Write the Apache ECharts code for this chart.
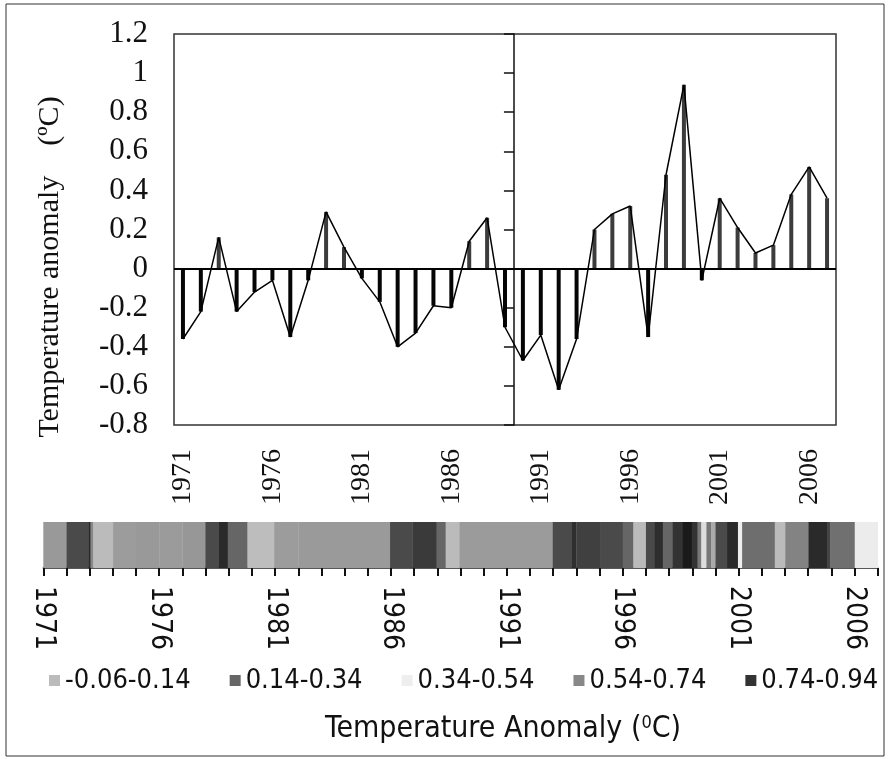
<!DOCTYPE html>
<html><head><meta charset="utf-8">
<script src="https://cdn.jsdelivr.net/npm/echarts@6/dist/echarts.min.js"></script>
<style>html,body{margin:0;padding:0;background:#fff}#c{width:895px;height:759px}</style>
</head><body><div id="c"></div>
<script>
// ---- data ----
const years = ['1971','1972','1973','1974','1975','1976','1977','1978','1979','1980',
  '1981','1982','1983','1984','1985','1986','1987','1988','1989','1990',
  '1991','1992','1993','1994','1995','1996','1997','1998','1999','2000',
  '2001','2002','2003','2004','2005','2006','2007'];
const anomaly = [-0.36,-0.22,0.16,-0.22,-0.12,-0.06,-0.35,-0.06,0.29,0.11,
  -0.05,-0.17,-0.40,-0.33,-0.19,-0.20,0.14,0.26,-0.30,-0.47,
  -0.34,-0.62,-0.36,0.20,0.28,0.32,-0.35,0.48,0.94,-0.06,
  0.36,0.21,0.08,0.12,0.38,0.52,0.36];
const yMin = -0.8, yMax = 1.2, yStep = 0.2;

// colour strip segments (start year, end year, grey level)
const segStart = [1971.00,1972.00,1972.94,1973.04,1973.16,1974.01,1975.00,1976.00,1977.00,1977.99,
  1978.56,1978.96,1979.81,1980.96,1982.00,1985.96,1986.92,1987.97,1988.36,1988.95,
  1992.98,1993.78,1994.00,1995.02,1996.00,1996.46,1997.00,1997.38,1997.73,1998.14,
  1998.59,1998.98,1999.23,1999.39,1999.61,1999.81,2000.00,2000.50,2000.97,2001.15,
  2002.56,2003.01,2004.01,2004.81,2004.96,2006.01];
const segEnd = [1972.00,1972.94,1973.04,1973.16,1974.01,1975.00,1976.00,1977.00,1977.99,1978.56,
  1978.96,1979.81,1980.96,1982.00,1985.96,1986.92,1987.97,1988.36,1988.95,1992.98,
  1993.78,1994.00,1995.02,1996.00,1996.46,1997.00,1997.38,1997.73,1998.14,1998.59,
  1998.98,1999.23,1999.39,1999.61,1999.81,2000.00,2000.50,2000.97,2001.15,2002.56,
  2003.01,2004.01,2004.81,2004.96,2006.01,2007.00];
const segGrey = [153,74,42,136,187,156,153,155,151,74,
  42,102,189,156,154,74,58,102,187,155,
  74,46,64,74,102,187,74,46,102,51,
  26,51,119,221,119,170,74,42,238,110,
  187,131,42,68,112,236];
const stripMin = 1971, stripMax = 2007;

const legendNames = ['-0.06-0.14','0.14-0.34','0.34-0.54','0.54-0.74','0.74-0.94'];
const legendColors = ['#bbbbbb','#666666','#eeeeee','#888888','#333333'];

// ---- chart ----
const chart = echarts.init(document.getElementById('c'));
const gridLeft = 174, gridRight = 59;
const gridW = 895 - gridLeft - gridRight;
const crossIndex = 19; // vertical axis crosses between 1989 and 1990

const serif = '"Liberation Serif","Times New Roman",serif';
const sans = '"DejaVu Sans Condensed","Liberation Sans",sans-serif';

const stripData = segStart.map((s, i) => [s, segEnd[i], segGrey[i]]);

const legendSeries = legendNames.map((n, i) => ({
  name: n, type: 'bar', data: [], xAxisIndex: 1, yAxisIndex: 2,
  itemStyle: {color: legendColors[i]}
}));

chart.setOption({
  animation: false,
  backgroundColor: '#fff',
  graphic: [
    {type: 'rect', shape: {x: 6, y: 4, width: 878, height: 752},
     style: {fill: 'none', stroke: '#333', lineWidth: 1}, silent: true},
    {type: 'text', x: 50, y: 267, rotation: Math.PI / 2,
     style: {text: 'Temperature anomaly    (\u00baC)', font: '30px ' + serif,
             fill: '#111', textAlign: 'center', textVerticalAlign: 'middle'}}
  ],
  title: {
    text: '{a|Temperature Anomaly (}{s|0}{a|C)}',
    left: 320, top: 709,
    textStyle: {fontWeight: 'normal', rich: {
      a: {fontFamily: sans, fontSize: 30, fontWeight: 'normal', color: '#111'},
      s: {fontFamily: sans, fontSize: 18, fontWeight: 'normal', color: '#111', verticalAlign: 'top', padding: [0, 0, 13, 0]}
    }}
  },
  legend: {
    data: legendNames, left: 44, right: 2, top: 662, icon: 'rect',
    itemWidth: 11, itemHeight: 11, itemGap: 39,
    textStyle: {fontFamily: sans, fontSize: 27, color: '#111'}
  },
  grid: [
    {left: gridLeft, right: gridRight, top: 34, bottom: 334, show: true,
     borderColor: '#333', borderWidth: 1.5, backgroundColor: 'transparent'},
    {left: 43.3, right: 17.3, top: 522, height: 46}
  ],
  xAxis: [
    {type: 'category', data: years, gridIndex: 0, boundaryGap: true,
     axisLine: {show: false, onZero: false}, axisTick: {show: false},
     axisLabel: {interval: 4, rotate: 90, margin: 24, fontFamily: serif, fontSize: 28, color: '#111'},
     splitLine: {show: false}},
    {type: 'value', gridIndex: 1, min: stripMin, max: stripMax, interval: 1,
     axisLine: {show: true, lineStyle: {color: '#222', width: 1.5}},
     axisTick: {show: true, length: 8, lineStyle: {color: '#111', width: 2}},
     axisLabel: {rotate: -90, margin: 18, fontFamily: sans, fontSize: 28, color: '#111',
       formatter: v => ((v - stripMin) % 5 === 0 ? String(v) : '')},
     splitLine: {show: false}}
  ],
  yAxis: [
    {type: 'value', gridIndex: 0, min: yMin, max: yMax, interval: yStep, position: 'left',
     axisLine: {show: false}, axisTick: {show: false}, splitLine: {show: false},
     axisLabel: {margin: 26, fontFamily: serif, fontSize: 31, color: '#111',
       formatter: v => String(Math.round(v * 10) / 10)}},
    {type: 'value', gridIndex: 0, min: yMin, max: yMax, interval: yStep, position: 'left',
     offset: -gridW * crossIndex / years.length,
     axisLine: {show: true, lineStyle: {color: '#111', width: 1.5}},
     axisTick: {show: true, length: 10, inside: false, lineStyle: {color: '#111', width: 1.5}},
     axisLabel: {show: false}, splitLine: {show: false}},
    {type: 'value', gridIndex: 1, min: 0, max: 1, show: false}
  ],
  series: [
    {type: 'bar', xAxisIndex: 0, yAxisIndex: 0, data: anomaly, barWidth: 4,
     itemStyle: {color: p => (p.value < 0 ? '#050505' : '#3c3c3c')},
     markLine: {silent: true, symbol: 'none', label: {show: false},
       lineStyle: {color: '#000', width: 2, type: 'solid'}, data: [{yAxis: 0}]}},
    {type: 'line', xAxisIndex: 0, yAxisIndex: 0, data: anomaly, symbol: 'none', z: 5,
     lineStyle: {color: '#000', width: 1.5}},
    {type: 'custom', xAxisIndex: 1, yAxisIndex: 2, data: stripData,
     encode: {x: [0, 1]},
     renderItem: (params, api) => {
       const a = api.coord([api.value(0), 0]);
       const b = api.coord([api.value(1), 1]);
       const g = api.value(2);
       return {type: 'rect', shape: {x: a[0], y: b[1], width: b[0] - a[0] + 0.3, height: a[1] - b[1]},
               style: {fill: 'rgb(' + g + ',' + g + ',' + g + ')'}};
     }},
    ...legendSeries
  ]
});
</script></body></html>
